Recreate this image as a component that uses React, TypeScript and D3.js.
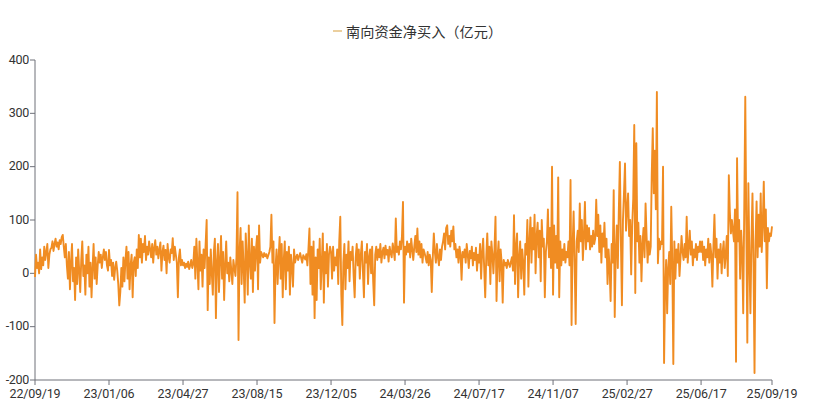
import React from "react";
import * as d3 from "d3";

const seriesName = "南向资金净买入（亿元）";

const tickLabels = ["22/09/19","23/01/06","23/04/27","23/08/15","23/12/05","24/03/26","24/07/17","24/11/07","25/02/27","25/06/17","25/09/19"];
const tickIndex = [0,72,144,216,288,360,432,504,576,648,717];
const yTicks = [-200,-100,0,100,200,300,400];

const seg1 = [-7,35,10,20,0,45,8,30,15,50,25,40,55,10,35,45,48,60,42,55,65,50,58,45,62,55,68,72,50,30,55,15,-10,40,-30,20,55,-15,10,-50,30,-20,45,5,-35,25,60,-5,15,-40,35,0,50,-25,20,-45,10,55,-10,30,-20,15,40,20,35,10,30,45,25,40,15,5];
const seg2 = [44,15,25,-5,20,-12,10,22,5,-20,-60,-35,10,-25,30,-15,25,50,-10,40,-30,15,35,-45,20,30,-5,45,10,72,30,65,20,55,40,70,25,50,35,60,45,30,55,20,48,62,35,50,28,45,58,5,40,52,25,44,0,55,30,20,45,38,66,25,50,35,20,-45,30,45,15,25];
const seg3 = [15,20,10,18,12,22,8,15,25,10,18,50,-10,65,20,-30,60,5,35,-25,45,10,55,100,-69,30,-20,45,0,-40,40,65,-84,20,55,-35,25,70,-10,40,-50,15,60,0,20,-15,30,5,-20,25,10,-5,30,152,-125,40,85,-20,60,10,-55,75,30,-40,90,20,-10,65,-35,50,5,45];
const seg4 = [70,-30,90,20,40,35,30,38,32,36,28,34,40,50,110,20,60,-93,10,45,-20,30,68,-10,55,-45,25,60,-30,40,5,50,-40,35,15,-25,45,20,30,35,25,32,38,28,20,34,30,26,36,15,45,84,-20,50,-40,60,-84,30,-50,45,10,65,-30,20,75,-55,40,0,55,-25,35,50];
const seg5 = [40,-10,50,5,30,15,45,-20,60,106,-40,-97,20,55,-30,35,10,60,-15,40,25,50,-5,-45,30,55,15,45,-10,35,60,5,-45,40,20,55,-20,30,45,0,50,-15,-60,35,50,25,45,30,55,20,40,48,28,52,35,44,22,50,38,30,56,42,25,103,40,50,35,60,45,70,134,-55];
const seg6 = [50,35,60,40,55,30,65,45,25,50,70,40,84,35,60,30,55,20,45,38,30,20,40,15,35,25,-35,30,75,40,20,55,30,15,45,25,50,60,75,45,85,90,55,70,50,80,60,88,45,55,30,45,20,50,35,-12,40,30,45,20,55,35,10,42,28,50,15,38,25,48,5,35];
const seg7 = [20,55,-10,40,65,10,-45,30,75,15,50,-20,60,35,0,45,106,-52,30,60,-15,45,20,-55,25,15,20,10,25,18,12,22,30,5,109,-20,50,75,-45,30,60,-10,45,20,-40,55,35,100,-25,60,105,20,85,45,110,0,70,95,30,80,-15,100,50,65,-45,40,60,120,30,85,10,200];
const seg8 = [-40,90,20,70,10,180,-45,60,15,45,25,55,20,40,30,60,15,175,-97,50,116,20,-95,60,80,40,131,60,100,25,70,134,45,90,60,85,45,70,50,80,55,65,138,70,110,40,90,20,75,50,95,30,65,-20,45,10,-52,55,20,156,-82,40,90,10,120,209,60,-60,100,150,206,80];
const seg9 = [120,150,70,100,-2,90,140,278,-37,244,60,95,20,70,-15,55,85,30,131,70,20,60,35,50,184,272,150,230,120,340,19,65,45,60,55,200,-168,-30,25,-75,10,40,-20,125,20,-170,60,-10,45,20,55,-5,30,70,40,25,55,30,106,20,50,80,35,60,15,45,30,55,25,50,40,60];
const seg10 = [40,60,25,50,15,45,30,65,20,55,35,-25,50,110,30,65,-10,45,20,55,0,40,60,10,35,70,-5,184,115,75,100,80,60,120,-166,216,60,100,-10,80,40,-75,120,331,90,-130,169,30,-75,60,150,20,-187,60,135,30,110,50,150,40,90,172,60,120,-28,85,60,75,70,88];

const netBuy: number[] = [...seg1, ...seg2, ...seg3, ...seg4, ...seg5, ...seg6, ...seg7, ...seg8, ...seg9, ...seg10];

const W = 832, H = 400;
const left = 35, right = 772, top = 60, bottom = 380;
const lineColor = "#f08c22";
const axisColor = "#6e7079";
const labelFont = "Roboto, 'Noto Sans', sans-serif";

export default function App() {
  const x = d3.scaleLinear().domain([0, netBuy.length - 1]).range([left, right]);
  const y = d3.scaleLinear().domain([-200, 400]).range([bottom, top]);
  const line = d3.line<number>().x((_, i) => x(i)).y((d) => y(d));
  const path = line(netBuy) || "";

  return (
    <div style={{ position: "absolute", left: 0, top: 0 }}>
      <svg width={W} height={H} style={{ display: "block", background: "#fff" }}>
        <g>
          <line x1={333} x2={342} y1={31} y2={31} stroke="#ebcf9e" strokeWidth={2} />
          <text x={346} y={31} dominantBaseline="central" fontSize={14.2}
            fontFamily="'Noto Sans CJK SC', sans-serif" fill="#333">{seriesName}</text>
        </g>
        <line x1={left} x2={left} y1={top} y2={bottom} stroke={axisColor} strokeWidth={1} />
        {yTicks.map((t) => (
          <g key={t}>
            <line x1={left - 5} x2={left} y1={y(t)} y2={y(t)} stroke={axisColor} />
            <text x={left - 6} y={y(t) - 1} textAnchor="end" dominantBaseline="central"
              fontSize={12.5} letterSpacing={-0.3} fontFamily={labelFont} fill="#333">{t}</text>
          </g>
        ))}
        <line x1={left} x2={right} y1={bottom} y2={bottom} stroke={axisColor} strokeWidth={1} />
        {tickIndex.map((ti, k) => (
          <g key={ti}>
            <line x1={x(ti)} x2={x(ti)} y1={bottom} y2={bottom + 5} stroke={axisColor} />
            <text x={x(ti)} y={bottom + 13} textAnchor="middle" dominantBaseline="central"
              fontSize={12.5} letterSpacing={-0.2} fontFamily={labelFont} fill="#333">{tickLabels[k]}</text>
          </g>
        ))}
        <path d={path} fill="none" stroke={lineColor} strokeWidth={1.9} strokeLinejoin="round" />
      </svg>
    </div>
  );
}
